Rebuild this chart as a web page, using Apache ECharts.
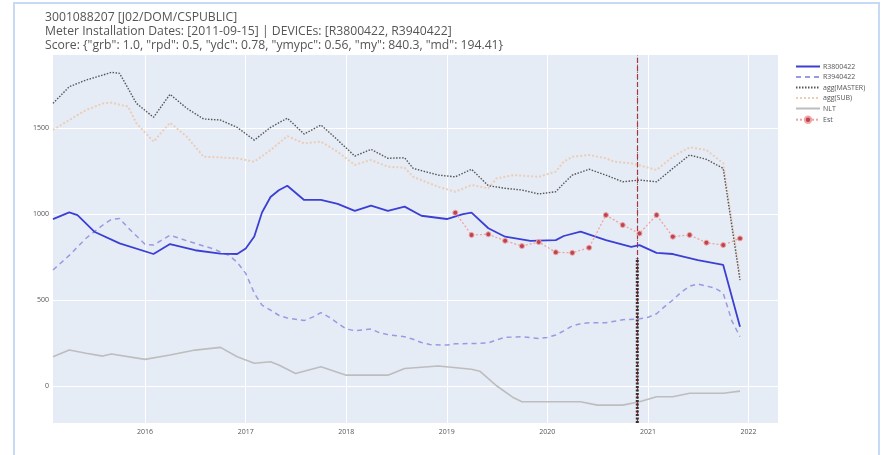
<!DOCTYPE html>
<html>
<head>
<meta charset="utf-8">
<script src="https://cdn.jsdelivr.net/npm/echarts@6/dist/echarts.min.js"></script>
<style>
html,body{margin:0;padding:0;background:#fff;}
#chart{width:885px;height:455px;}
</style>
</head>
<body>
<div id="chart"></div>
<script>
// ---- data ----
const titleLines = [
  '3001088207 [J02/DOM/CSPUBLIC]',
  'Meter Installation Dates: [2011-09-15] | DEVICEs: [R3800422, R3940422]',
  'Score: {"grb": 1.0, "rpd": 0.5, "ydc": 0.78, "ymypc": 0.56, "my": 840.3, "md": 194.41}'
];
const seriesNames = ['R3800422', 'R3940422', 'agg(MASTER)', 'agg(SUB)', 'NLT', 'Est'];
const yearTicks = ['2016', '2017', '2018', '2019', '2020', '2021', '2022'];
const yTicks = [0, 500, 1000, 1500];
const xRange = ['2015-02-01', '2022-04-18'];
const yRange = [-217, 1928];
const installLineDate = '2020-11-23';
const installBand = [-217, 745];

const r38Dates = ['2015-02','2015-04','2015-05','2015-07','2015-10','2016-02','2016-04','2016-07','2016-10','2016-12',
  '2017-01','2017-02','2017-03','2017-04','2017-05','2017-06','2017-08','2017-10','2017-12','2018-02','2018-04','2018-06',
  '2018-08','2018-10','2019-01','2019-03','2019-04','2019-06','2019-08','2019-11','2020-02','2020-03','2020-05','2020-08',
  '2020-11','2020-12','2021-02','2021-04','2021-07','2021-10','2021-12'];
const r38Values = [971,1011,995,898,830,768,826,790,770,768,
  800,870,1010,1100,1140,1166,1083,1083,1060,1019,1050,1019,
  1044,991,972,1000,1009,918,869,845,849,873,898,849,
  810,820,775,768,733,704,344];

const r39Dates = ['2015-02','2015-04','2015-06','2015-08','2015-09','2015-10','2015-11','2016-01','2016-02','2016-04',
  '2016-06','2016-09','2016-11','2016-12','2017-01','2017-02','2017-03','2017-04','2017-05','2017-06','2017-08','2017-09',
  '2017-10','2017-11','2017-12','2018-01','2018-02','2018-04','2018-05','2018-06','2018-08','2018-09','2018-10','2018-11',
  '2019-01','2019-02','2019-05','2019-06','2019-07','2019-08','2019-10','2019-12','2020-01','2020-02','2020-03','2020-04',
  '2020-05','2020-06','2020-08','2020-10','2020-12','2021-01','2021-02','2021-03','2021-04','2021-05','2021-06','2021-07',
  '2021-08','2021-09','2021-10','2021-11','2021-12'];
const r39Values = [675,760,860,937,970,975,920,825,820,878,
  845,800,760,720,655,540,470,441,411,395,380,400,
  426,399,365,331,321,331,310,298,286,271,252,240,
  237,245,247,250,268,282,286,276,282,296,320,350,
  362,367,367,385,390,399,420,460,500,545,580,593,
  581,570,540,380,286];

const masterDates = ['2015-02','2015-04','2015-06','2015-08','2015-09','2015-10','2015-12','2016-02','2016-04','2016-06',
  '2016-08','2016-10','2016-12','2017-02','2017-04','2017-06','2017-08','2017-10','2017-12','2018-02','2018-04','2018-06',
  '2018-08','2018-09','2018-12','2019-02','2019-04','2019-06','2019-08','2019-10','2019-12','2020-02','2020-03','2020-04',
  '2020-06','2020-08','2020-10','2020-12','2021-02','2021-04','2021-06','2021-08','2021-10','2021-12'];
const masterValues = [1646,1743,1782,1811,1827,1821,1646,1565,1699,1617,
  1555,1549,1506,1432,1506,1560,1467,1520,1432,1339,1378,1326,
  1329,1267,1228,1218,1262,1166,1151,1141,1118,1131,1180,1228,
  1262,1228,1189,1199,1189,1267,1345,1320,1267,616];

const subDates = ['2015-02','2015-04','2015-06','2015-08','2015-09','2015-11','2015-12','2016-02','2016-04','2016-06',
  '2016-08','2016-10','2016-12','2017-02','2017-04','2017-06','2017-08','2017-10','2017-12','2018-02','2018-04','2018-06',
  '2018-08','2018-09','2018-12','2019-02','2019-04','2019-06','2019-07','2019-09','2019-12','2020-02','2020-03','2020-04',
  '2020-06','2020-08','2020-09','2020-11','2021-02','2021-04','2021-06','2021-08','2021-10','2021-12'];
const subValues = [1491,1549,1607,1646,1650,1627,1530,1423,1533,1452,
  1335,1331,1326,1306,1374,1455,1413,1423,1364,1287,1316,1277,
  1271,1218,1160,1131,1170,1151,1209,1228,1218,1248,1306,1335,
  1345,1326,1306,1297,1258,1335,1390,1374,1297,640];

const nltDates = ['2015-02','2015-04','2015-06','2015-08','2015-09','2016-01','2016-04','2016-07','2016-10','2016-12',
  '2017-02','2017-04','2017-05','2017-07','2017-10','2018-01','2018-06','2018-08','2018-12','2019-04','2019-05','2019-07',
  '2019-09','2019-10','2020-05','2020-07','2020-10','2020-12','2021-02','2021-04','2021-06','2021-10','2021-12'];
const nltValues = [169,208,190,173,185,154,179,208,224,169,
  131,140,121,72,111,62,62,101,115,96,85,0,
  -70,-93,-93,-113,-113,-93,-64,-64,-44,-44,-31];

const estDates = ['2019-02','2019-04','2019-06','2019-08','2019-10','2019-12','2020-02','2020-04','2020-06',
  '2020-08','2020-10','2020-12','2021-02','2021-04','2021-06','2021-08','2021-10','2021-12'];
const estValues = [1009,879,883,845,814,838,778,775,805,
  995,937,888,995,869,879,834,820,859];

// ---- helpers: dates -> timestamps (value x-axis) ----
function ts(s) {
  const p = s.split('-').map(Number);
  return Date.UTC(p[0], (p[1] || 1) - 1, p[2] || 1);
}
function pairs(dates, values) { return dates.map((d, i) => [ts(d), values[i]]); }
const yearVals = yearTicks.map(y => ts(y + '-01-01'));

const chart = echarts.init(document.getElementById('chart'));
const FONT = '"Open Sans", "DejaVu Sans", sans-serif';

const option = {
  animation: false,
  backgroundColor: '#ffffff',
  textStyle: { fontFamily: FONT },
  title: {
    text: titleLines.join('\n'),
    left: 45, top: 11, padding: 0,
    textStyle: { fontSize: 12.2, fontWeight: 'normal', color: '#555', lineHeight: 14, fontFamily: FONT }
  },
  graphic: [{
    type: 'rect', shape: { x: 14, y: 3, width: 865, height: 470 },
    style: { fill: 'none', stroke: '#c7d9f5', lineWidth: 2 }, silent: true
  }],
  legend: {
    orient: 'vertical', left: 790, top: 58, itemWidth: 24, itemHeight: 8, itemGap: 3.5,
    data: seriesNames.map((n, i) => i < 5 ? { name: n, itemStyle: { opacity: 0 } } : { name: n }),
    textStyle: { fontSize: 7, color: '#555', fontFamily: FONT, padding: [0, 0, 0, -2] }
  },
  grid: {
    left: 53, right: 107, top: 55, bottom: 32, show: true,
    backgroundColor: '#e5ecf6', borderWidth: 0, containLabel: false
  },
  xAxis: {
    type: 'value', min: ts(xRange[0]), max: ts(xRange[1]),
    axisLine: { show: false },
    axisTick: { show: false, customValues: yearVals },
    axisLabel: { customValues: yearVals, formatter: v => String(new Date(v).getUTCFullYear()), fontSize: 7, color: '#555', margin: 5 },
    splitLine: { show: true, lineStyle: { color: '#ffffff', width: 1 } }
  },
  yAxis: {
    type: 'value', min: yRange[0], max: yRange[1],
    axisLine: { show: false },
    axisTick: { show: false, customValues: yTicks },
    axisLabel: { customValues: yTicks, formatter: v => String(v), fontSize: 7, color: '#555', margin: 4 },
    splitLine: { show: true, lineStyle: { color: '#ffffff', width: 1 } }
  },
  series: [
    {
      name: seriesNames[0], type: 'line', symbol: 'none', data: pairs(r38Dates, r38Values),
      lineStyle: { color: '#3b3fd4', width: 1.8 }, itemStyle: { color: '#3b3fd4' }, z: 5
    },
    {
      name: seriesNames[1], type: 'line', symbol: 'none', data: pairs(r39Dates, r39Values),
      lineStyle: { color: '#9a9ae0', width: 1.5, type: [5, 4] }, itemStyle: { color: '#9a9ae0' }, z: 4
    },
    {
      name: seriesNames[2], type: 'line', symbol: 'none', data: pairs(masterDates, masterValues),
      lineStyle: { color: '#555555', width: 1.4, type: [1.5, 1.5] }, itemStyle: { color: '#555555' }, z: 4
    },
    {
      name: seriesNames[3], type: 'line', symbol: 'none', data: pairs(subDates, subValues),
      lineStyle: { color: '#ebcdb8', width: 2, type: [2, 2] }, itemStyle: { color: '#ebcdb8' }, z: 3
    },
    {
      name: seriesNames[4], type: 'line', symbol: 'none', data: pairs(nltDates, nltValues),
      lineStyle: { color: '#bdbdbd', width: 1.6 }, itemStyle: { color: '#bdbdbd' }, z: 3
    },
    {
      name: seriesNames[5], type: 'line', symbol: 'circle', symbolSize: 5, showSymbol: true,
      data: pairs(estDates, estValues),
      lineStyle: { color: '#f2a0a0', width: 1.3, type: [2, 2] },
      itemStyle: { color: '#b8454f', borderColor: '#f3a5a5', borderWidth: 1 }, z: 6
    },
    {
      name: 'install', type: 'line', symbol: 'none', silent: true,
      data: [[ts(installLineDate), installBand[0]], [ts(installLineDate), installBand[1]]],
      lineStyle: { color: '#333', width: 3, type: [2, 1.5] }, z: 7,
      markLine: {
        symbol: 'none', silent: true, label: { show: false },
        data: [
          { xAxis: ts(installLineDate), lineStyle: { color: '#d62728', width: 1.2, type: [5, 3] } },
          { xAxis: ts(installLineDate), lineStyle: { color: '#555', width: 0.8, type: [1.5, 2] } }
        ]
      }
    }
  ]
};
chart.setOption(option);
</script>
</body>
</html>
